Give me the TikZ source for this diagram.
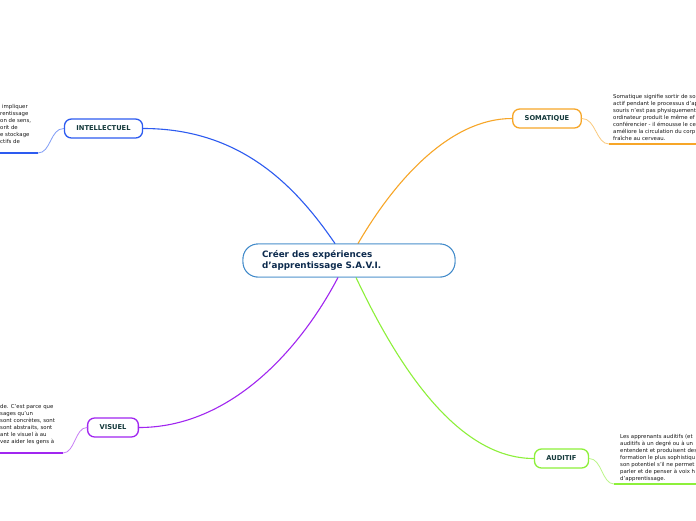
\documentclass[tikz,border=0pt]{standalone}
\usepackage{fontspec}
\setmainfont{DejaVu Sans}
\usetikzlibrary{calc}

\definecolor{savi}{HTML}{0D2B4E}
\definecolor{labeltxt}{HTML}{14393B}
\definecolor{rootline}{HTML}{3A86C8}
\definecolor{cintel}{HTML}{2D5BF0}
\definecolor{csoma}{HTML}{F7A628}
\definecolor{cvisu}{HTML}{A126F0}
\definecolor{caudi}{HTML}{8DF03A}

\begin{document}
\begin{tikzpicture}[x=1pt,y=-1pt,line cap=round,line join=round,
  rootbox/.style={draw=rootline,line width=0.9pt,rounded corners=15pt,fill=white,
    minimum height=33pt,text width=174pt,inner xsep=19pt,align=left,text=savi,
    font=\fontsize{8.8}{11}\selectfont\bfseries},
  topic/.style={draw=#1,line width=1.3pt,rounded corners=7pt,fill=white,
    minimum height=19pt,inner xsep=12pt,inner ysep=0pt,text=labeltxt,
    font=\fontsize{6.7}{7}\selectfont\bfseries},
  branch/.style={draw=#1,line width=1.1pt},
  twig/.style={draw=#1!60,line width=0.8pt},
  underl/.style={draw=#1,line width=2pt,line cap=butt},
  note/.style={inner sep=0pt,align=left,text=black!90,
    font=\fontsize{5.4}{7}\selectfont}]
  \useasboundingbox[fill=white] (0,0) rectangle (696,520);

  % --- central topic ---
  \node[rootbox] (root) at (349,260.5)
    {Créer des expériences\\d'apprentissage S.A.V.I.};

  % --- main topics ---
  \node[topic=cintel] (intel) at (103.5,128.5) {INTELLECTUEL};
  \node[topic=csoma]  (soma)  at (547,118.5)   {SOMATIQUE};
  \node[topic=cvisu]  (visu)  at (113,427.5)   {VISUEL};
  \node[topic=caudi]  (audi)  at (561.5,458.5) {AUDITIF};

  % --- branches from the central topic ---
  \draw[branch=cintel] ($(root.north)+(-14,0)$) .. controls (295,185) and (240,128.5) .. (intel.east);
  \draw[branch=csoma]  ($(root.north)+(9,0)$)   .. controls (395,180) and (450,118.5) .. (soma.west);
  \draw[branch=cvisu]  ($(root.south)+(-11,0)$) .. controls (300,350) and (230,427.5) .. (visu.east);
  \draw[branch=caudi]  ($(root.south)+(7,0)$)   .. controls (395,360) and (455,458.5) .. (audi.west);
  % redraw the central topic on top of the branch ends
  \node[rootbox] at (root) {Créer des expériences\\d'apprentissage S.A.V.I.};

  % --- notes (cut by the page edge) ---
  \node[note,anchor=north west] (intelnote) at (0,104.5)
    {\hspace*{2pt}impliquer\\rentissage\\on de sens,\\orit de\\e stockage\\ctifs de};
  \node[note,anchor=north west] (somanote) at (613,94.5)
    {Somatique signifie sortir de so\\actif pendant le processus d'ap\\souris n'est pas physiquement\\ordinateur produit le même ef\\conférencier - il émousse le ce\\améliore la circulation du corp\\fraîche au cerveau.};
  \node[note,anchor=north west] (visunote) at (0,404.5)
    {de. C'est parce que\\sages qu'un\\sont concrètes, sont\\sont abstraits, sont\\ant le visuel à au\\vez aider les gens à};
  \node[note,anchor=north west] (audinote) at (620,434.5)
    {Les apprenants auditifs (et\\auditifs à un degré ou à un\\entendent et produisent des\\formation le plus sophistiqu\\son potentiel s'il ne permet\\parler et de penser à voix h\\d'apprentissage.};

  % --- twigs and underlines of the notes ---
  \coordinate (iu) at (38,153);  \coordinate (ie) at (0,153);
  \coordinate (su) at (609,144); \coordinate (se) at (696,144);
  \coordinate (vu) at (63,453);  \coordinate (ve) at (0,453);
  \coordinate (au) at (614,484); \coordinate (ae) at (696,484);
  \draw[twig=cintel] (intel.west) .. controls (50,128.5) and (51,153) .. (iu);
  \draw[underl=cintel] (iu) -- (ie);
  \draw[twig=csoma] (soma.east) .. controls (596,118.5) and (596,144) .. (su);
  \draw[underl=csoma] (su) -- (se);
  \draw[twig=cvisu] (visu.west) .. controls (75,427.5) and (75,453) .. (vu);
  \draw[underl=cvisu] (vu) -- (ve);
  \draw[twig=caudi] (audi.east) .. controls (602,458.5) and (602,484) .. (au);
  \draw[underl=caudi] (au) -- (ae);
\end{tikzpicture}
\end{document}
